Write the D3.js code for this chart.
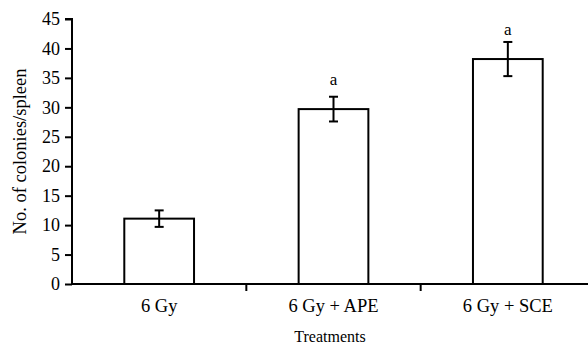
<!DOCTYPE html>
<html>
<head>
<meta charset="utf-8">
<script src="https://cdn.jsdelivr.net/npm/d3@7"></script>
<style>
  body { margin: 0; background: #fff; }
  svg text { font-family: "Liberation Serif", "Times New Roman", serif; fill: #000; }
</style>
</head>
<body>
<svg width="588" height="346"></svg>
<script>
// **** Data ****
var treatments = ["6 Gy", "6 Gy + APE", "6 Gy + SCE"];
var colonies = [11.1, 29.7, 38.2];
var errors = [1.4, 2.1, 2.9];
var sigLabels = ["", "a", "a"];
var yTicks = [0, 5, 10, 15, 20, 25, 30, 35, 40, 45];

var data = treatments.map(function(t, i) {
    return { name: t, value: colonies[i], err: errors[i], sig: sigLabels[i] };
});

// **** Scales and axes ****
var svg = d3.select("svg");

var xScale = d3.scaleBand()
    .domain(treatments)
    .range([72, 595])
    .paddingInner(0.6)
    .paddingOuter(0.3);

var yScale = d3.scaleLinear()
    .domain([0, 45])
    .range([284, 19]);

// y axis
var yAxis = svg.append("g")
    .attr("transform", "translate(72,0)")
    .call(d3.axisLeft(yScale).tickValues(yTicks).tickSize(7).tickPadding(5));
yAxis.selectAll("path, line").attr("stroke", "#000").attr("stroke-width", 2);
yAxis.select(".domain").attr("d", "M-7," + yScale(45) + "H0V" + yScale(0));
yAxis.selectAll("text")
    .style("font-size", "18px")
    .style("font-family", "Liberation Serif, serif");

// x axis line
svg.append("line")
    .attr("x1", 72).attr("x2", 588)
    .attr("y1", yScale(0)).attr("y2", yScale(0))
    .attr("stroke", "#000").attr("stroke-width", 2);

// x ticks between categories
var step = xScale.step();
var dividers = treatments.slice(1).map(function(t) {
    return xScale(t) + xScale.bandwidth() / 2 - step / 2;
});
svg.selectAll(".divider")
    .data(dividers)
    .enter().append("line")
    .attr("x1", function(d) { return d; })
    .attr("x2", function(d) { return d; })
    .attr("y1", yScale(0))
    .attr("y2", yScale(0) + 7)
    .attr("stroke", "#000").attr("stroke-width", 2);

// category labels
svg.selectAll(".cat")
    .data(treatments)
    .enter().append("text")
    .attr("x", function(d) { return xScale(d) + xScale.bandwidth() / 2; })
    .attr("y", 312)
    .style("text-anchor", "middle")
    .style("font-size", "18.5px")
    .text(function(d) { return d; });

// **** Bars ****
svg.selectAll(".bar")
    .data(data)
    .enter().append("rect")
    .attr("x", function(d) { return xScale(d.name); })
    .attr("y", function(d) { return yScale(d.value); })
    .attr("width", xScale.bandwidth())
    .attr("height", function(d) { return yScale(0) - yScale(d.value); })
    .attr("fill", "#fff")
    .attr("stroke", "#000")
    .attr("stroke-width", 2);

// error bars
var eb = svg.selectAll(".err")
    .data(data)
    .enter().append("g")
    .attr("transform", function(d) {
        return "translate(" + (xScale(d.name) + xScale.bandwidth() / 2) + ",0)";
    });
eb.append("line")
    .attr("y1", function(d) { return yScale(d.value + d.err); })
    .attr("y2", function(d) { return yScale(d.value - d.err); })
    .attr("stroke", "#000").attr("stroke-width", 2);
eb.append("line")
    .attr("x1", -4.5).attr("x2", 4.5)
    .attr("y1", function(d) { return yScale(d.value + d.err); })
    .attr("y2", function(d) { return yScale(d.value + d.err); })
    .attr("stroke", "#000").attr("stroke-width", 2);
eb.append("line")
    .attr("x1", -4.5).attr("x2", 4.5)
    .attr("y1", function(d) { return yScale(d.value - d.err); })
    .attr("y2", function(d) { return yScale(d.value - d.err); })
    .attr("stroke", "#000").attr("stroke-width", 2);

// significance letters
eb.append("text")
    .attr("y", function(d) { return yScale(d.value) - 24; })
    .style("text-anchor", "middle")
    .style("font-size", "17px")
    .text(function(d) { return d.sig; });

// **** Axis titles ****
svg.append("text")
    .attr("x", 330)
    .attr("y", 342)
    .style("text-anchor", "middle")
    .style("font-size", "16px")
    .text("Treatments");

svg.append("text")
    .attr("transform", "translate(26," + ((yScale(0) + yScale(45)) / 2) + ") rotate(-90)")
    .style("text-anchor", "middle")
    .style("font-size", "18.5px")
    .text("No. of colonies/spleen");
</script>
</body>
</html>
